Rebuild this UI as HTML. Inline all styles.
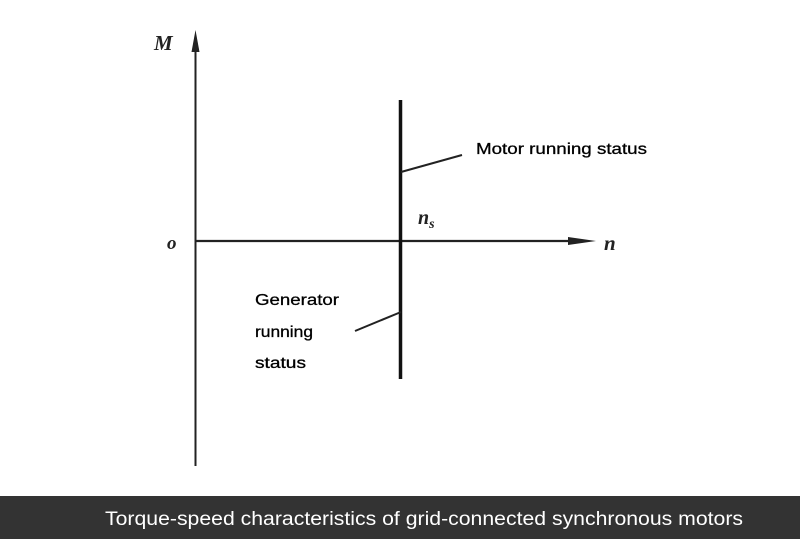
<!DOCTYPE html>
<html><head><meta charset="utf-8"><style>
html,body{margin:0;padding:0;background:#fff;}
body{width:800px;height:539px;overflow:hidden;position:relative;}
</style></head><body>
<svg width="800" height="539" viewBox="0 0 800 539" style="position:absolute;left:0;top:0">
<rect width="800" height="539" fill="#fff"/>
<line x1="195.5" y1="44" x2="195.5" y2="466" stroke="#222" stroke-width="2"/>
<polygon points="195.5,30 191.5,52 199.5,52" fill="#222"/>
<line x1="196" y1="241" x2="580" y2="241" stroke="#222" stroke-width="2.2"/>
<polygon points="596,241 568,237 568,245" fill="#222"/>
<line x1="400.5" y1="100" x2="400.5" y2="379" stroke="#111" stroke-width="3.5"/>
<line x1="401" y1="172" x2="462" y2="155" stroke="#222" stroke-width="2"/>
<line x1="355" y1="331" x2="401" y2="312" stroke="#222" stroke-width="2"/>
<text x="154" y="50" font-family="Liberation Serif,serif" font-style="italic" font-weight="bold" font-size="21" fill="#222">M</text>
<text x="167" y="249" font-family="Liberation Serif,serif" font-style="italic" font-weight="bold" font-size="19" fill="#222">o</text>
<text x="604" y="250" font-family="Liberation Serif,serif" font-style="italic" font-weight="bold" font-size="21" fill="#222">n</text>
<text x="418" y="224" font-family="Liberation Serif,serif" font-style="italic" font-weight="bold" font-size="20" fill="#222">n<tspan font-size="14" dy="4">s</tspan></text>
<g font-family="'Comic Sans MS','Liberation Sans',sans-serif" font-size="16" fill="#000" stroke="#000" stroke-width="0.3">
<text x="476" y="154" textLength="171" lengthAdjust="spacingAndGlyphs">Motor running status</text>
<text x="255" y="305" textLength="84" lengthAdjust="spacingAndGlyphs">Generator</text>
<text x="255" y="337" textLength="58" lengthAdjust="spacingAndGlyphs">running</text>
<text x="255" y="368" textLength="51" lengthAdjust="spacingAndGlyphs">status</text>
</g>
<rect x="0" y="496" width="800" height="43" fill="#333"/>
<text x="105" y="525" font-family="'Comic Sans MS','Liberation Sans',sans-serif" font-size="19" fill="#fff" textLength="638" lengthAdjust="spacingAndGlyphs">Torque-speed characteristics of grid-connected synchronous motors</text>
</svg>
</body></html>
